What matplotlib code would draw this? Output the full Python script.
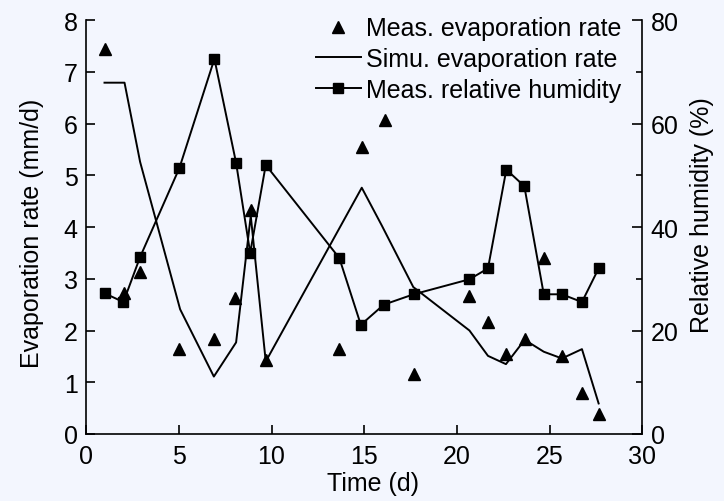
import matplotlib
matplotlib.use("Agg")
import matplotlib.pyplot as plt
from matplotlib.lines import Line2D

plt.rcParams['font.family'] = ['Liberation Sans', 'DejaVu Sans']

# measured evaporation rate (mm/d)
meas_t = [0.99, 2.05, 2.91, 5.03, 6.89, 8.05, 8.88, 9.69, 13.66, 14.89,
          16.11, 17.67, 20.64, 21.68, 22.65, 23.66, 24.69, 25.67, 26.75, 27.65]
meas_evap = [7.45, 2.72, 3.14, 1.64, 1.83, 2.62, 4.32, 1.43, 1.64, 5.55,
             6.06, 1.16, 2.67, 2.17, 1.54, 1.83, 3.40, 1.50, 0.80, 0.38]

# simulated evaporation rate (mm/d)
simu_t = [0.99, 2.07, 2.91, 5.07, 6.89, 8.09, 8.88, 9.69, 14.87, 15.95,
          17.65, 20.68, 21.68, 22.65, 23.66, 24.69, 25.67, 26.75, 27.65]
simu_evap = [6.79, 6.79, 5.26, 2.41, 1.11, 1.77, 4.22, 1.40, 4.76, 4.03,
             2.84, 2.00, 1.51, 1.35, 1.82, 1.59, 1.46, 1.64, 0.59]

# measured relative humidity (%)
rh_t = [0.99, 2.01, 2.91, 5.03, 6.92, 8.09, 8.85, 9.69, 13.66, 14.82,
        16.06, 17.67, 20.68, 21.68, 22.67, 23.64, 24.69, 25.67, 26.75, 27.65]
rh = [27.2, 25.5, 34.2, 51.4, 72.5, 52.4, 35.0, 52.0, 34.0, 21.1,
      25.0, 27.0, 29.9, 32.0, 51.1, 47.9, 27.0, 27.0, 25.5, 32.0]

bg = '#F3F6FE'
fs = 18

fig = plt.figure(figsize=(7.24, 5.02), dpi=100, facecolor=bg)
ax = fig.add_axes([0.119, 0.1335, 0.768, 0.8245])
ax.set_facecolor(bg)
ax2 = ax.twinx()
ax2.patch.set_visible(False)

ax.plot(meas_t, meas_evap, linestyle='none', marker='^', color='black',
        markersize=8.7)
ax.plot(simu_t, simu_evap, color='black', linewidth=1.4)
ax2.plot(rh_t, rh, color='black', linewidth=1.4, marker='s', markersize=6.5)

ax.set_xlim(0, 30)
ax.set_ylim(0, 8)
ax2.set_ylim(0, 80)
ax.set_xticks(range(0, 31, 5))
ax.set_yticks(range(0, 9))
ax2.set_yticks(range(0, 81, 20))
ax2.set_yticks(range(10, 80, 20), minor=True)

for a in (ax, ax2):
    a.spines['top'].set_visible(False)
    for s in a.spines.values():
        s.set_linewidth(1.2)
ax.spines['right'].set_visible(False)
ax2.spines['left'].set_visible(False)
ax2.spines['bottom'].set_visible(False)

ax.tick_params(direction='in', length=6.5, width=1.2, labelsize=fs, pad=6)
ax.tick_params(axis='x', pad=7)
ax2.tick_params(which='major', direction='in', length=7, width=1.2,
                labelsize=fs, pad=6)
ax2.tick_params(which='minor', direction='in', length=4.5, width=1.2)

ax.set_xlabel('Time (d)', fontsize=fs)
ax.set_ylabel('Evaporation rate (mm/d)', fontsize=fs)
ax2.set_ylabel('Relative humidity (%)', fontsize=fs)
ax.xaxis.set_label_coords(0.515, -0.09)
ax.yaxis.set_label_coords(-0.076, 0.487)
ax2.yaxis.set_label_coords(1.086, 0.531)

handles = [
    Line2D([], [], linestyle='none', marker='^', color='black', markersize=8.7),
    Line2D([], [], color='black', linewidth=1.4),
    Line2D([], [], color='black', linewidth=1.4, marker='s', markersize=6.5),
]
labels = ['Meas. evaporation rate', 'Simu. evaporation rate',
          'Meas. relative humidity']
ax2.legend(handles, labels, loc='upper right', frameon=False, fontsize=fs,
           handlelength=1.8, handletextpad=0.2, labelspacing=0.27,
           borderaxespad=0.0, bbox_to_anchor=(0.98, 1.033))

fig.savefig('out.png', dpi=100, facecolor=bg)
